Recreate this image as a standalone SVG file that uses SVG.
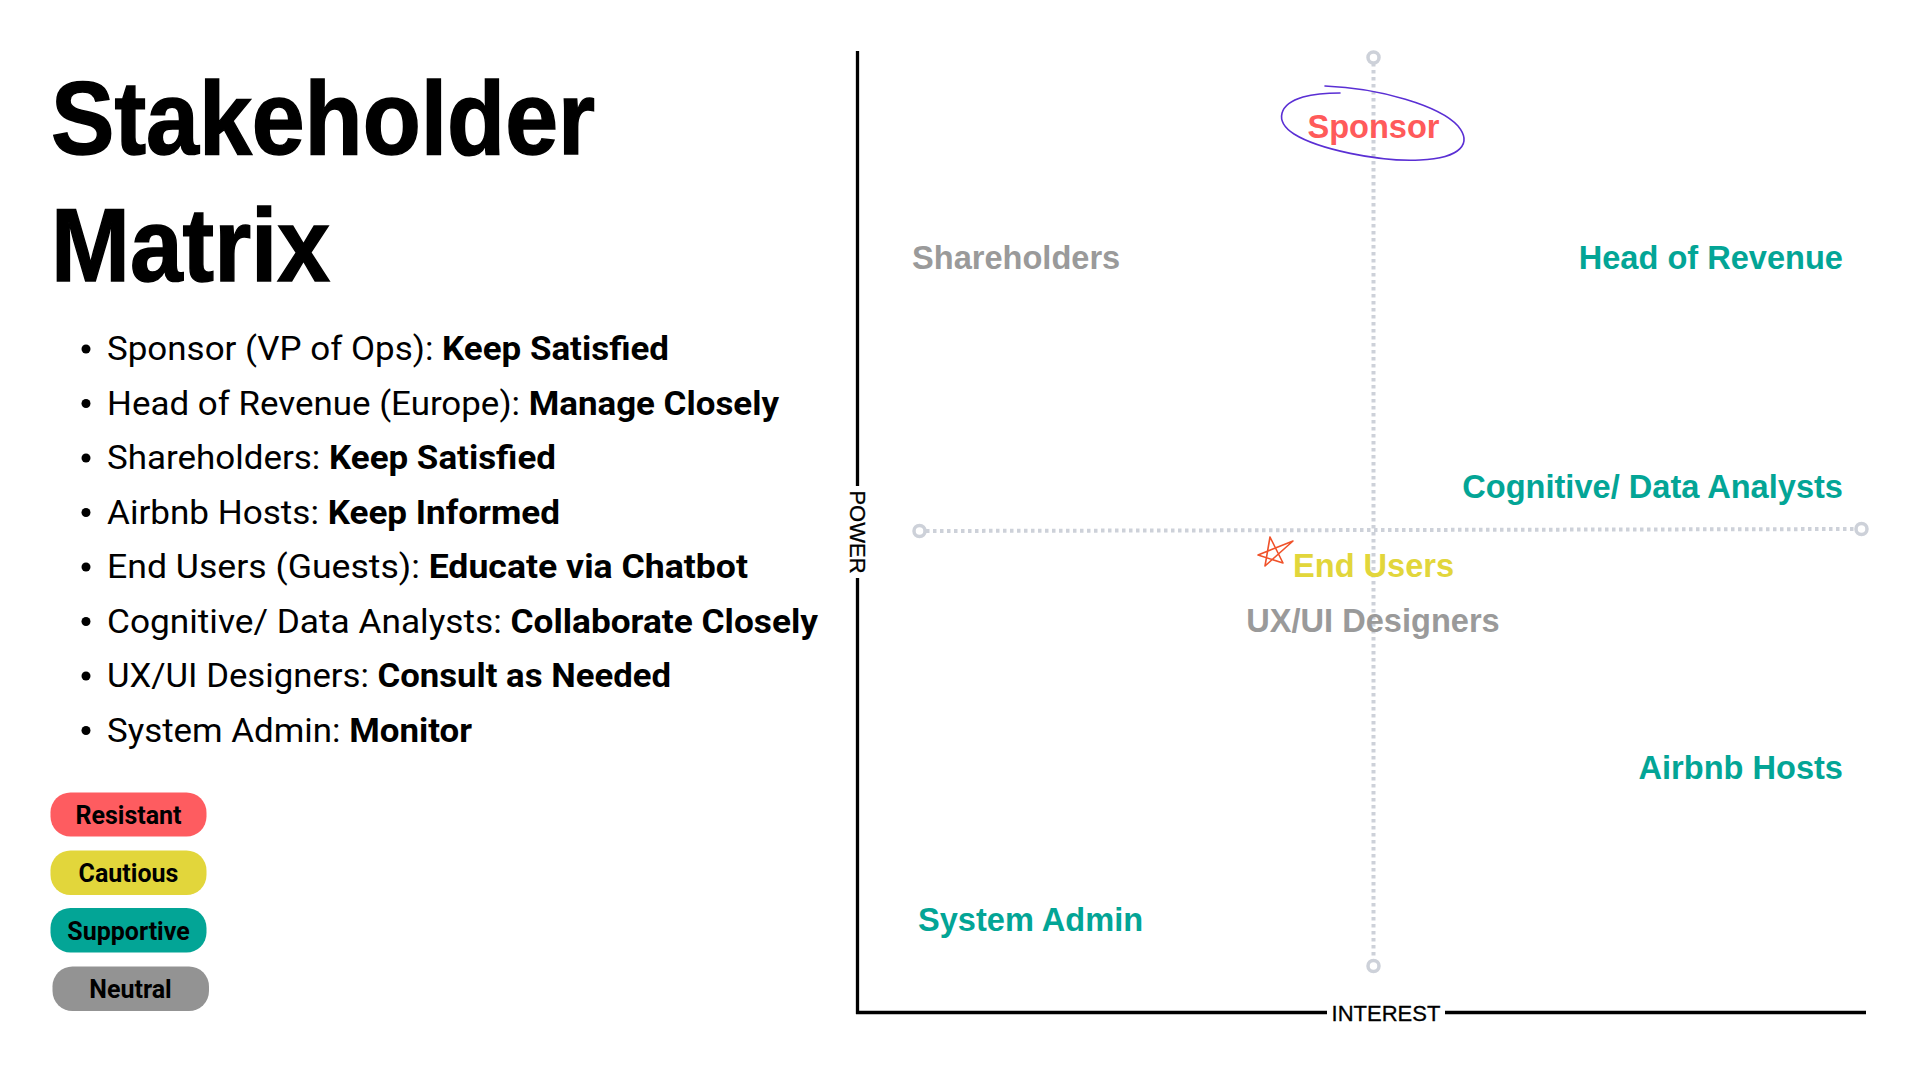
<svg xmlns="http://www.w3.org/2000/svg" width="1920" height="1080" viewBox="0 0 1920 1080">
<defs>
<style>
.title{font-family:"Liberation Sans",Arial,sans-serif;font-weight:700;font-size:104px;fill:#000;stroke:#000;stroke-width:1.5}
.item{font-family:Roboto,"Liberation Sans",sans-serif;font-size:33px;fill:#000}
.item .b{font-weight:700}
.pill{font-family:Roboto,"Liberation Sans",sans-serif;font-weight:700;font-size:25px;fill:#000;text-anchor:middle}
.lbl{font-family:"Liberation Sans",Arial,sans-serif;font-weight:700;font-size:32.6px}
.axis{font-family:"Liberation Sans",Arial,sans-serif;font-size:22px;fill:#000;stroke:#000;stroke-width:0.3}
.teal{fill:#03a596}.gray{fill:#9a9a9a}.red{fill:#ff5a5a}.yel{fill:#e2d63b}
.dot{stroke:#cdd1d9;stroke-width:4;stroke-dasharray:3.5 3.5;fill:none}
.ring{stroke:#cdd1d9;stroke-width:3.5;fill:#fff}
</style>
</defs>
<rect width="1920" height="1080" fill="#fff"/>

<g id="title">
<text class="title" x="51" y="154" textLength="544" lengthAdjust="spacingAndGlyphs">Stakeholder</text>
<text class="title" x="51" y="281" textLength="279" lengthAdjust="spacingAndGlyphs">Matrix</text>
</g>

<g id="list">
<g fill="#000">
<circle cx="86" cy="349" r="4.5"/><circle cx="86" cy="403.5" r="4.5"/><circle cx="86" cy="458" r="4.5"/><circle cx="86" cy="512.5" r="4.5"/>
<circle cx="86" cy="567" r="4.5"/><circle cx="86" cy="621.5" r="4.5"/><circle cx="86" cy="676" r="4.5"/><circle cx="86" cy="730.5" r="4.5"/>
</g>
<text class="item" x="107" y="360" textLength="562" lengthAdjust="spacingAndGlyphs">Sponsor (VP of Ops): <tspan class="b">Keep Satisfied</tspan></text>
<text class="item" x="107" y="414.5" textLength="672" lengthAdjust="spacingAndGlyphs">Head of Revenue (Europe): <tspan class="b">Manage Closely</tspan></text>
<text class="item" x="107" y="469" textLength="449" lengthAdjust="spacingAndGlyphs">Shareholders: <tspan class="b">Keep Satisfied</tspan></text>
<text class="item" x="107" y="523.5" textLength="453" lengthAdjust="spacingAndGlyphs">Airbnb Hosts: <tspan class="b">Keep Informed</tspan></text>
<text class="item" x="107" y="578" textLength="641" lengthAdjust="spacingAndGlyphs">End Users (Guests): <tspan class="b">Educate via Chatbot</tspan></text>
<text class="item" x="107" y="632.5" textLength="711" lengthAdjust="spacingAndGlyphs">Cognitive/ Data Analysts: <tspan class="b">Collaborate Closely</tspan></text>
<text class="item" x="107" y="687" textLength="564" lengthAdjust="spacingAndGlyphs">UX/UI Designers: <tspan class="b">Consult as Needed</tspan></text>
<text class="item" x="107" y="741.5" textLength="365" lengthAdjust="spacingAndGlyphs">System Admin: <tspan class="b">Monitor</tspan></text>
</g>

<g id="legend">
<g id="legend-resistant"><rect x="50.5" y="792.5" width="156" height="44" rx="20" fill="#fe5c60"/><text class="pill" x="128.5" y="823.5">Resistant</text></g>
<g id="legend-cautious"><rect x="50.5" y="850.5" width="156" height="44.5" rx="20" fill="#e2d63b"/><text class="pill" x="128.5" y="881.5">Cautious</text></g>
<g id="legend-supportive"><rect x="50.5" y="908" width="156" height="44.5" rx="20" fill="#03a596"/><text class="pill" x="128.5" y="939.5">Supportive</text></g>
<g id="legend-neutral"><rect x="52.5" y="966.5" width="156.5" height="44.5" rx="20" fill="#939393"/><text class="pill" x="130.5" y="997.5">Neutral</text></g>
</g>

<g id="connectors">
<path d="M857.5,51 V486 M857.5,578 V1014" stroke="#000" stroke-width="3.3" fill="none"/>
<path d="M856,1012.5 H1327 M1445,1012.5 H1866" stroke="#000" stroke-width="3.3" fill="none"/>
<line class="dot" x1="1373.5" y1="63" x2="1373.5" y2="960"/>
<line class="dot" x1="926" y1="531" x2="1856" y2="529"/>
<circle class="ring" cx="1373.5" cy="57.5" r="5.5"/>
<circle class="ring" cx="1373.5" cy="966" r="5.5"/>
<circle class="ring" cx="919.5" cy="531" r="5.5"/>
<circle class="ring" cx="1861.5" cy="529" r="5.5"/>
</g>

<g id="axis-labels">
<text class="axis" x="1386" y="1020.5" text-anchor="middle">INTEREST</text>
<text class="axis" transform="translate(850,532) rotate(90)" text-anchor="middle">POWER</text>
</g>

<g id="node-sponsor">
<path d="M1325,86 C1380,88 1440,106 1458,126 C1472,143 1462,158 1420,160 C1378,162 1318,149 1294,134 C1274,121 1279,104 1303,97 C1314,94 1328,93 1340,93" stroke="#5a2fd4" stroke-width="1.6" fill="none" stroke-linecap="round"/>
<text class="lbl red" x="1373.5" y="138" text-anchor="middle">Sponsor</text>
</g>
<g id="node-shareholders"><text class="lbl gray" x="912" y="269">Shareholders</text></g>
<g id="node-head-of-revenue"><text class="lbl teal" x="1843" y="269" text-anchor="end">Head of Revenue</text></g>
<g id="node-cognitive"><text class="lbl teal" x="1843" y="498" text-anchor="end">Cognitive/ Data Analysts</text></g>
<g id="node-end-users">
<path d="M1270,537 L1283,563 L1258,555 L1293,541 L1265,566 L1270,537" stroke="#f0522a" stroke-width="1.6" fill="none" stroke-linejoin="round" stroke-linecap="round"/>
<text class="lbl yel" x="1293" y="577">End Users</text>
</g>
<g id="node-uxui"><text class="lbl gray" x="1373" y="632" text-anchor="middle">UX/UI Designers</text></g>
<g id="node-airbnb-hosts"><text class="lbl teal" x="1843" y="779" text-anchor="end">Airbnb Hosts</text></g>
<g id="node-system-admin"><text class="lbl teal" x="918" y="931">System Admin</text></g>
</svg>
